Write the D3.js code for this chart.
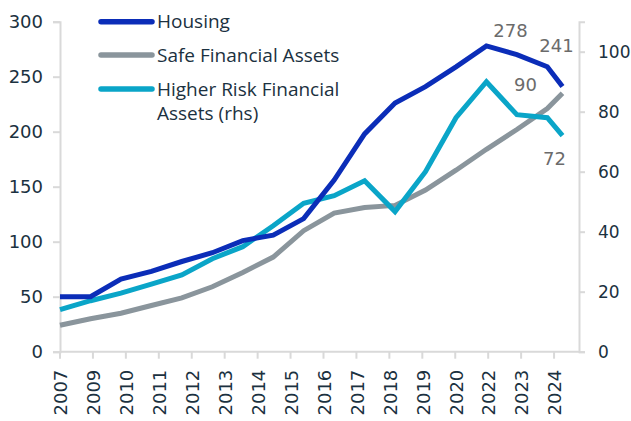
<!DOCTYPE html>
<html>
<head>
<meta charset="utf-8">
<script src="https://cdn.jsdelivr.net/npm/d3@7/dist/d3.min.js"></script>
<style>
  body { margin: 0; background: #fff; }
  svg { display: block; font-family: "Open Sans", sans-serif; }
</style>
</head>
<body>
<div id="main"></div>
<script>
// end-of-year observations 2007..2023, plus mid-2024
var dates = ['2007-12-31','2008-12-31','2009-12-31','2010-12-31','2011-12-31','2012-12-31',
  '2013-12-31','2014-12-31','2015-12-31','2016-12-31','2017-12-31','2018-12-31','2019-12-31',
  '2020-12-31','2021-12-31','2022-12-31','2023-12-31','2024-06-30'];
var housing = [50, 50, 66, 73, 82, 90, 101, 106, 121, 156, 198, 226, 241, 259, 278, 270, 259, 241];
var safeAssets = [24, 30, 35, 42, 49, 59, 72, 86, 110, 126, 131, 133, 147, 165, 184, 202, 221, 235];
var riskAssets = [14, 17, 19.5, 22.5, 25.6, 31, 35, 42, 49.5, 52, 57, 46.7, 60, 78, 90, 79, 78, 72];

// axis labels (date axis, one tick every 395 days from the first point)
var tickLabels = ['2007','2009','2010','2011','2012','2013','2014','2015','2016','2017','2018','2019','2020','2022','2023','2024'];
var leftTicks = [0, 50, 100, 150, 200, 250, 300];
var rightTicks = [0, 20, 40, 60, 80, 100];

var svgWidth = 631, svgHeight = 421;
var plotLeft = 60, plotRight = 579, plotTop = 21.7, plotBottom = 351.7;
var numFont = '"DejaVu Sans", sans-serif';

var parse = d3.timeParse('%Y-%m-%d');
var dts = dates.map(parse);

var x = d3.scaleTime()
  .domain([dts[0], dts[16]])
  .range([plotLeft, 547.3]);
var yL = d3.scaleLinear().domain([0, 300]).range([plotBottom, plotTop]);
var yR = d3.scaleLinear().domain([0, 110]).range([plotBottom, plotTop]);

var svg = d3.select('#main').append('svg')
  .attr('width', svgWidth)
  .attr('height', svgHeight);

var axisColor = '#d9d9d9';
var textColor = '#1b3140';

// left axis
var gL = svg.append('g').attr('transform', 'translate(' + plotLeft + ',0)')
  .call(d3.axisLeft(yL).tickValues(leftTicks).tickSize(7).tickPadding(10));
// right axis
var gR = svg.append('g').attr('transform', 'translate(' + plotRight + ',0)')
  .call(d3.axisRight(yR).tickValues(rightTicks).tickSize(6).tickPadding(13));

[gL, gR].forEach(function(g) {
  g.select('.domain').attr('stroke', axisColor).attr('stroke-width', 2);
  g.selectAll('.tick line').attr('stroke', axisColor).attr('stroke-width', 2);
  g.selectAll('.tick text').attr('fill', textColor).style('font-size', '18px').style('font-family', numFont);
});
gR.selectAll('.tick text').style('font-size', '17px');

// bottom axis
var tickDates = tickLabels.map(function(d, i) { return d3.timeDay.offset(dts[0], 395 * i); });
var gB = svg.append('g');
gB.append('line')
  .attr('x1', plotLeft).attr('x2', plotRight)
  .attr('y1', plotBottom).attr('y2', plotBottom)
  .attr('stroke', axisColor).attr('stroke-width', 2);
gB.selectAll('line.tk').data(tickDates).enter().append('line')
  .attr('class', 'tk')
  .attr('x1', function(d) { return x(d); }).attr('x2', function(d) { return x(d); })
  .attr('y1', plotBottom).attr('y2', plotBottom + 7)
  .attr('stroke', axisColor).attr('stroke-width', 2);
gB.selectAll('text').data(tickLabels).enter().append('text')
  .attr('transform', function(d, i) { return 'translate(' + (x(tickDates[i]) + 1) + ',' + (plotBottom + 18) + ') rotate(-90)'; })
  .attr('text-anchor', 'end')
  .attr('dy', '0.35em')
  .attr('fill', textColor)
  .style('font-size', '18px')
  .style('font-family', numFont)
  .text(function(d) { return d; });

// series
var series = [
  { name: 'Housing', values: housing, y: yL, color: '#0b2db8' },
  { name: 'Safe Financial Assets', values: safeAssets, y: yL, color: '#8a959c' },
  { name: 'Higher Risk Financial Assets (rhs)', values: riskAssets, y: yR, color: '#0aa5c8' }
];

// draw order: gray, cyan, blue
[series[1], series[2], series[0]].forEach(function(s) {
  var line = d3.line()
    .x(function(d, i) { return x(dts[i]); })
    .y(function(d) { return s.y(d); });
  svg.append('path')
    .datum(s.values)
    .attr('d', line)
    .attr('fill', 'none')
    .attr('stroke', s.color)
    .attr('stroke-width', 5)
    .attr('stroke-linejoin', 'miter');
});

// value labels
var last = dates.length - 1;
var notes = [
  { v: housing[14], i: 14, y: yL, dx: 24, dy: -9 },
  { v: housing[last], i: last, y: yL, dx: -6, dy: -35 },
  { v: riskAssets[14], i: 14, y: yR, dx: 39, dy: 9 },
  { v: riskAssets[last], i: last, y: yR, dx: -8, dy: 29 }
];
svg.selectAll('text.note').data(notes).enter().append('text')
  .attr('class', 'note')
  .attr('x', function(d) { return x(dts[d.i]) + d.dx; })
  .attr('y', function(d) { return d.y(d.v) + d.dy; })
  .attr('text-anchor', 'middle')
  .attr('fill', '#6b6b6b')
  .style('font-size', '18px')
  .style('font-family', numFont)
  .text(function(d) { return Math.round(d.v); });

// legend
var legend = [
  { lines: ['Housing'], color: series[0].color, y: 21.7 },
  { lines: ['Safe Financial Assets'], color: series[1].color, y: 55 },
  { lines: ['Higher Risk Financial', 'Assets (rhs)'], color: series[2].color, y: 89 }
];
var lg = svg.append('g');
legend.forEach(function(l) {
  lg.append('line')
    .attr('x1', 101).attr('x2', 152)
    .attr('y1', l.y).attr('y2', l.y)
    .attr('stroke', l.color)
    .attr('stroke-width', 5.5)
    .attr('stroke-linecap', 'round');
  l.lines.forEach(function(t, k) {
    lg.append('text')
      .attr('x', 157)
      .attr('y', l.y + k * 24.5)
      .attr('dy', '0.35em')
      .attr('fill', textColor)
      .style('font-size', '19px')
      .text(t);
  });
});
</script>
</body>
</html>
